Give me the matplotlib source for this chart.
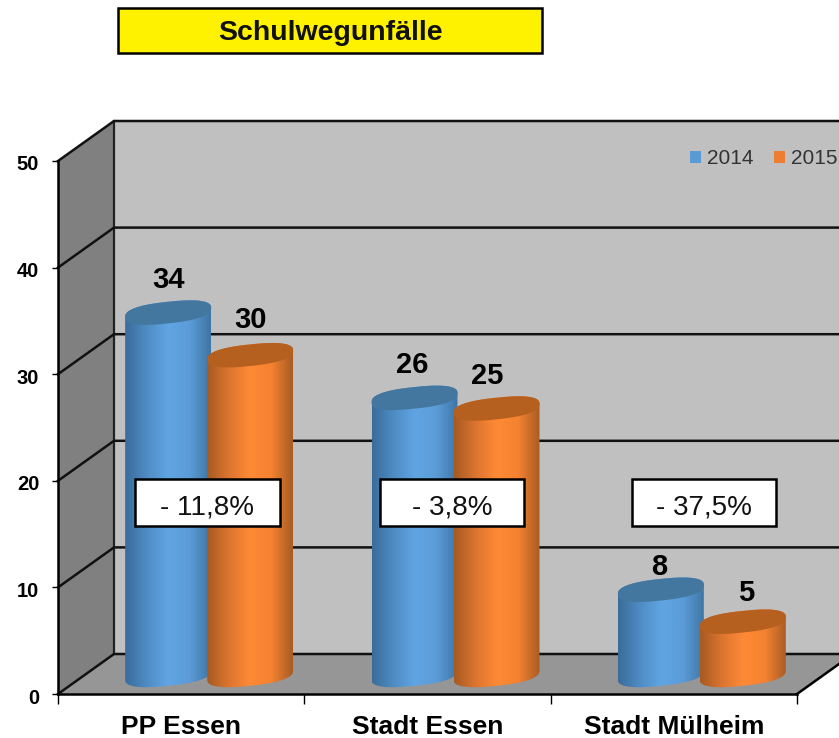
import numpy as np
import matplotlib
matplotlib.use('Agg')
import matplotlib.pyplot as plt
from matplotlib.colors import LinearSegmentedColormap
from matplotlib.patches import Patch, Polygon, Rectangle
from matplotlib.transforms import ScaledTranslation

categories = ['PP Essen', 'Stadt Essen', 'Stadt Mülheim']
years = ['2014', '2015']
values_2014 = [34, 26, 8]
values_2015 = [30, 25, 5]
changes = ['- 11,8%', '- 3,8%', '- 37,5%']
title = 'Schulwegunfälle'

W, H = 839, 738
plt.rcParams['font.family'] = ['Liberation Sans', 'DejaVu Sans']

# axes box in pixels, the 3d look is only an offset in data units
left, right, top, bottom = 58, 797, 161, 694
fig = plt.figure(figsize=(W / 100, H / 100), dpi=100)
ax = fig.add_axes([left / W, 1 - bottom / H, (right - left) / W, (bottom - top) / H])
ax.set_xlim(0, 3)
ax.set_ylim(0, 50)
ax.patch.set_visible(False)

px_x = 3 / (right - left)
px_y = 50 / (bottom - top)
dx = 56 * px_x
dy = 40 * px_y


def poly(points, **kw):
    p = Polygon(points, closed=True, clip_on=False, **kw)
    ax.add_patch(p)
    return p


# walls
poly([(dx, dy), (3.5, dy), (3.5, 50 + dy), (dx, 50 + dy)], fc='#c0c0c0', ec='none', zorder=1)
poly([(0, 0), (dx, dy), (dx, 50 + dy), (0, 50)], fc='#808080', ec='none', zorder=1)
poly([(0, 0), (dx, dy), (3 + dx, dy), (3, 0)], fc='#969696', ec='none', zorder=1)
ax.plot([dx, dx], [dy, 50 + dy], color='#222222', lw=1.6, clip_on=False, zorder=2)
ax.plot([3, 3 + dx], [0, dy], color='black', lw=1.8, clip_on=False, zorder=2)

for v in range(0, 60, 10):
    ax.plot([0, dx, 3.5], [v, v + dy, v + dy], color='#111111', lw=1.8, clip_on=False, zorder=2)

blue_cm = LinearSegmentedColormap.from_list('b', ['#3a6c9a', '#4f8cc4', '#60a5e3', '#5b9cd8', '#3f75a5'])
orange_cm = LinearSegmentedColormap.from_list('o', ['#a65a22', '#dc7530', '#ff8a36', '#f58231', '#a85c24'])
grad = np.linspace(0, 1, 128).reshape(1, -1)
base = 19 * px_y


def rim(t, cx, cy):
    # rounder than a plain ellipse and slightly tilted, like the office 3d cylinders
    rx = 43 * px_x
    ry = 10.8 * px_y
    tilt = 4.5 * px_y
    c = np.sign(np.cos(t)) * np.abs(np.cos(t)) ** 0.8
    s = np.sign(np.sin(t)) * np.abs(np.sin(t)) ** 0.8
    return cx + rx * c, cy + ry * s + tilt * c


def cylinder(cx, value, cmap, cap):
    rx = 43 * px_x
    y0 = base
    y1 = base + value
    xb, yb = rim(np.linspace(np.pi, 2 * np.pi, 61), cx, y0)
    xt, yt = rim(np.linspace(0, np.pi, 61), cx, y1)
    body = Polygon(np.c_[np.r_[xb, xt], np.r_[yb, yt]], closed=True, fc='none', ec='none',
                   transform=ax.transData)
    ax.add_patch(body)
    im = ax.imshow(grad, cmap=cmap, extent=[cx - rx, cx + rx, y0 - 2, y1 + 2],
                   aspect='auto', zorder=4, interpolation='bilinear')
    im.set_clip_path(body)
    x, y = rim(np.linspace(0, 2 * np.pi, 121), cx, y1)
    ax.fill(x, y, fc=cap, ec='none', zorder=4)


centers = np.arange(3) + 0.5 + dx / 2
shift = 41 * px_x
label_dx = [[0, 0], [-2, -9], [-2, 3]]
label_dy = [[33, 35], [33, 33], [23, 29]]
for i in range(3):
    cylinder(centers[i] - shift, values_2014[i], blue_cm, '#44779f')
    cylinder(centers[i] + shift, values_2015[i], orange_cm, '#b5601f')
    for j, (vals, off) in enumerate([(values_2014, -shift), (values_2015, shift)]):
        ax.text(centers[i] + off + label_dx[i][j] * px_x,
                base + vals[i] + label_dy[i][j] * px_y, str(vals[i]),
                ha='center', va='center', fontsize=21, fontweight='bold', color='black', zorder=5)

ax.set_xlim(0, 3)
ax.set_ylim(0, 50)

# axes and ticks
for s in ['top', 'right']:
    ax.spines[s].set_visible(False)
for s in ['left', 'bottom']:
    ax.spines[s].set_linewidth(1.8)
    ax.spines[s].set_zorder(3)
ax.set_yticks(range(0, 60, 10))
ax.set_xticks(range(4))
ax.set_xticklabels([])
ax.set_xticks(np.arange(3) + 0.5, categories, minor=True)
ax.tick_params(axis='x', which='major', length=7, width=1)
ax.tick_params(axis='x', which='minor', length=0, pad=15, labelsize=19)
ax.tick_params(axis='y', length=4.5, width=1, pad=9, labelsize=14.5)
for lab in ax.get_yticklabels() + ax.get_xticklabels(minor=True):
    lab.set_fontweight('bold')
for lab in ax.get_yticklabels():
    lab.set_transform(lab.get_transform() + ScaledTranslation(0, -2 / 100, fig.dpi_scale_trans))

# percent boxes
box_x = [(135, 280), (380, 524), (632, 776)]
for (x0, x1), txt in zip(box_x, changes):
    fig.add_artist(Rectangle((x0 / W, 1 - 526 / H), (x1 - x0) / W, 47 / H, transform=fig.transFigure,
                             fc='white', ec='black', lw=1.8, zorder=10))
    fig.text((x0 + x1) / 2 / W, 1 - 507 / H, txt, ha='center', va='center', fontsize=20,
             color='#111111', zorder=11)

# title box
fig.add_artist(Rectangle((118 / W, 1 - 53 / H), 424 / W, 45 / H, transform=fig.transFigure,
                         fc='#fff200', ec='black', lw=1.8, zorder=10))
fig.text(330 / W, 1 - 33 / H, title, ha='center', va='center', fontsize=20.5, fontweight='bold',
         color='#111111', zorder=11)

handles = [Patch(fc='#5b9bd5', ec='none'), Patch(fc='#ed7d31', ec='none')]
ax.legend(handles, years, ncol=2, frameon=False, fontsize=15, labelcolor='#333333',
          handlelength=0.55, handleheight=0.55, handletextpad=0.25, columnspacing=1.0,
          loc='center left', bbox_to_anchor=((690 - left) / (right - left), (bottom - 159) / (bottom - top)),
          borderpad=0, borderaxespad=0).set_zorder(6)

fig.savefig('out.png', dpi=100, facecolor='white')
